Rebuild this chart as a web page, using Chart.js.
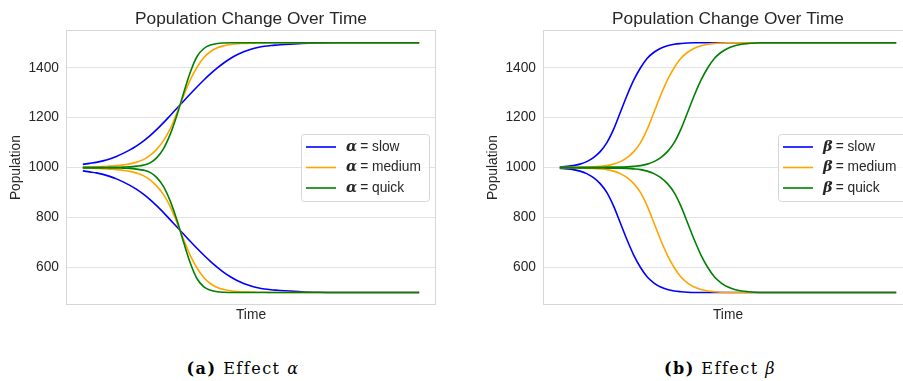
<!DOCTYPE html>
<html>
<head>
<meta charset="utf-8">
<script src="https://cdn.jsdelivr.net/npm/chart.js@4.4.1/dist/chart.umd.min.js"></script>
<style>
  html, body { margin: 0; padding: 0; background: #fff; }
  body { width: 903px; height: 381px; overflow: hidden; position: relative; }
  .panel { position: absolute; top: 0; width: 450px; height: 330px; }
  .caption {
    position: absolute; top: 361px; width: 220px; text-align: center;
    font-family: "DejaVu Serif", serif; font-size: 16px; line-height: 16px;
    letter-spacing: 1.5px; color: #000; white-space: nowrap;
  }
</style>
</head>
<body>
<div class="panel" style="left:0px"><canvas id="chartA"></canvas></div>
<div class="panel" style="left:477px"><canvas id="chartB"></canvas></div>
<div class="caption" style="left:133px"><b>(a)</b> Effect <i>α</i></div>
<div class="caption" style="left:610px"><b>(b)</b> Effect <i>β</i></div>
<script>
// time samples (same for every curve)
const time = [0, 2, 4, 6, 8, 10, 12, 14, 16, 18, 20, 22, 24, 26, 28, 30, 32, 34, 36, 38, 40,
  42, 44, 46, 48, 50, 52, 54, 56, 58, 60, 65, 70, 75, 80, 85, 90, 95, 100];

// Effect alpha
const alphaSlowUp = [1013, 1017, 1021, 1027, 1035, 1045, 1057, 1071, 1087, 1106, 1128, 1153, 1180, 1209, 1238, 1267, 1296, 1324, 1351, 1376, 1399,
  1420, 1438, 1453, 1465, 1474, 1481, 1486, 1489, 1491, 1493, 1497, 1499, 1500, 1500, 1500, 1500, 1500, 1500];
const alphaSlowDown = [987, 983, 979, 973, 965, 955, 943, 929, 913, 894, 872, 847, 820, 791, 762, 733, 704, 676, 649, 624, 601,
  580, 562, 547, 535, 526, 519, 514, 511, 509, 507, 503, 501, 500, 500, 500, 500, 500, 500];
const alphaMedUp = [1002, 1002, 1003, 1004, 1006, 1008, 1011, 1015, 1022, 1032, 1049, 1074, 1108, 1156, 1220, 1289, 1353, 1403, 1441, 1465, 1480,
  1488, 1493, 1496, 1497, 1498, 1499, 1499, 1500, 1500, 1500, 1500, 1500, 1500, 1500, 1500, 1500, 1500, 1500];
const alphaMedDown = [998, 998, 997, 996, 994, 992, 989, 985, 978, 968, 951, 926, 892, 844, 780, 711, 647, 597, 559, 535, 520,
  512, 507, 504, 503, 502, 501, 501, 500, 500, 500, 500, 500, 500, 500, 500, 500, 500, 500];
const alphaQuickUp = [1000, 1000, 1000, 1000, 1001, 1001, 1002, 1003, 1006, 1010, 1019, 1040, 1076, 1134, 1211, 1300, 1384, 1446, 1477, 1491, 1497,
  1499, 1500, 1500, 1500, 1500, 1500, 1500, 1500, 1500, 1500, 1500, 1500, 1500, 1500, 1500, 1500, 1500, 1500];
const alphaQuickDown = [1000, 1000, 1000, 1000, 999, 999, 998, 997, 994, 990, 981, 960, 924, 866, 789, 700, 616, 554, 523, 509, 503,
  501, 500, 500, 500, 500, 500, 500, 500, 500, 500, 500, 500, 500, 500, 500, 500, 500, 500];

// Effect beta
const betaSlowUp = [1003, 1005, 1008, 1014, 1024, 1040, 1064, 1100, 1154, 1222, 1290, 1351, 1400, 1438, 1462, 1478, 1488, 1494, 1497, 1499, 1500,
  1500, 1500, 1500, 1500, 1500, 1500, 1500, 1500, 1500, 1500, 1500, 1500, 1500, 1500, 1500, 1500, 1500, 1500];
const betaSlowDown = [997, 995, 992, 986, 976, 960, 936, 900, 846, 778, 710, 649, 600, 562, 538, 522, 512, 506, 503, 501, 500,
  500, 500, 500, 500, 500, 500, 500, 500, 500, 500, 500, 500, 500, 500, 500, 500, 500, 500];
const betaMedUp = [1001, 1001, 1002, 1002, 1002, 1003, 1005, 1008, 1014, 1024, 1040, 1064, 1100, 1154, 1222, 1290, 1351, 1400, 1438, 1462, 1478,
  1488, 1494, 1497, 1499, 1500, 1500, 1500, 1500, 1500, 1500, 1500, 1500, 1500, 1500, 1500, 1500, 1500, 1500];
const betaMedDown = [999, 999, 998, 998, 998, 997, 995, 992, 986, 976, 960, 936, 900, 846, 778, 710, 649, 600, 562, 538, 522,
  512, 506, 503, 501, 500, 500, 500, 500, 500, 500, 500, 500, 500, 500, 500, 500, 500, 500];
const betaQuickUp = [1000, 1000, 1000, 1001, 1001, 1001, 1001, 1002, 1002, 1002, 1003, 1005, 1008, 1014, 1024, 1040, 1064, 1100, 1154, 1222, 1290,
  1351, 1400, 1438, 1462, 1478, 1488, 1494, 1497, 1499, 1500, 1500, 1500, 1500, 1500, 1500, 1500, 1500, 1500];
const betaQuickDown = [1000, 1000, 1000, 999, 999, 999, 999, 998, 998, 998, 997, 995, 992, 986, 976, 960, 936, 900, 846, 778, 710,
  649, 600, 562, 538, 522, 512, 506, 503, 501, 500, 500, 500, 500, 500, 500, 500, 500, 500];

const yTicks = [600, 800, 1000, 1200, 1400];
const speedLabels = ["slow", "medium", "quick"];
const seriesColors = ["#0000ff", "#ffa500", "#008000"];

const SANS = '"Liberation Sans", Arial, sans-serif';
const TEXT = "#262626";

function series(values) {
    return values.map((v, i) => ({ x: time[i], y: v }));
}

// plot frame (all four sides)
const framePlugin = {
    id: "frame",
    beforeDatasetsDraw(chart) {
        const { ctx, chartArea: a } = chart;
        ctx.save();
        ctx.strokeStyle = "#d6d6d6";
        ctx.lineWidth = 1;
        ctx.strokeRect(Math.round(a.left) + 0.5, Math.round(a.top) + 0.5,
            Math.round(a.right - a.left) - 1, Math.round(a.bottom - a.top) - 1);
        ctx.restore();
    }
};

// legend box inside the plot, right middle
const boxLegend = {
    id: "boxLegend",
    afterDraw(chart, args, opts) {
        const { ctx, chartArea } = chart;
        const w = 128, h = 67, rowH = 20.5;
        const x0 = Math.round(chartArea.right - 7 - w);
        const y0 = Math.round((chartArea.top + chartArea.bottom) / 2 - h / 2);
        ctx.save();
        ctx.beginPath();
        ctx.roundRect(x0 + 0.5, y0 + 0.5, w, h, 3);
        ctx.fillStyle = "rgba(255,255,255,0.8)";
        ctx.fill();
        ctx.strokeStyle = "#d6d6d6";
        ctx.lineWidth = 1;
        ctx.stroke();
        speedLabels.forEach((lab, i) => {
            const y = y0 + 13 + i * rowH;
            ctx.strokeStyle = seriesColors[i];
            ctx.lineWidth = 1.6;
            ctx.beginPath();
            ctx.moveTo(x0 + 5, y);
            ctx.lineTo(x0 + 35, y);
            ctx.stroke();
            ctx.fillStyle = TEXT;
            ctx.textBaseline = "middle";
            ctx.font = 'bold italic 14.5px "DejaVu Serif"';
            ctx.fillText(opts.symbol, x0 + 45, y);
            const sw = ctx.measureText(opts.symbol).width;
            ctx.font = "13.75px " + SANS;
            ctx.fillText("= " + lab, x0 + 45 + sw + 3, y);
        });
        ctx.restore();
    }
};

function makeChart(id, ups, downs, symbol) {
    const datasets = [];
    for (let i = 0; i < 3; i++) {
        [ups[i], downs[i]].forEach(vals => {
            datasets.push({
                data: series(vals),
                borderColor: seriesColors[i],
                borderWidth: 1.6,
                pointRadius: 0,
                fill: false,
                cubicInterpolationMode: "monotone",
                order: 3 - i
            });
        });
    }
    return new Chart(document.getElementById(id), {
        type: "line",
        data: { datasets },
        options: {
            responsive: true,
            maintainAspectRatio: false,
            animation: false,
            layout: { padding: { left: 0, right: 14, top: 0, bottom: 0 } },
            plugins: {
                legend: { display: false },
                tooltip: { enabled: false },
                title: {
                    display: true,
                    fullSize: false,
                    text: "Population Change Over Time",
                    color: TEXT,
                    font: { family: SANS, size: 17.3, weight: "normal" },
                    padding: { top: 9, bottom: 0.5 }
                },
                boxLegend: { symbol }
            },
            scales: {
                x: {
                    type: "linear",
                    min: -5,
                    max: 105,
                    ticks: { display: false },
                    grid: { display: false, drawTicks: false },
                    border: { display: false },
                    title: {
                        display: true, text: "Time", color: TEXT,
                        font: { family: SANS, size: 13.75 },
                        padding: { top: 0, bottom: 7 }
                    },
                    afterFit(s) { s.height = 25; }
                },
                y: {
                    min: 450,
                    max: 1550,
                    afterBuildTicks(s) { s.ticks = yTicks.map(v => ({ value: v })); },
                    ticks: {
                        color: TEXT,
                        font: { family: SANS, size: 13.75 },
                        padding: 7,
                        callback: v => String(v)
                    },
                    grid: { color: "#e2e2e2", lineWidth: 1, drawTicks: false },
                    border: { display: false },
                    title: {
                        display: true, text: "Population", color: TEXT,
                        font: { family: SANS, size: 13.75 },
                        padding: { top: 8, bottom: 0 }
                    },
                    afterFit(s) { s.width = 66; }
                }
            }
        },
        plugins: [framePlugin, boxLegend]
    });
}

makeChart("chartA", [alphaSlowUp, alphaMedUp, alphaQuickUp], [alphaSlowDown, alphaMedDown, alphaQuickDown], "α");
makeChart("chartB", [betaSlowUp, betaMedUp, betaQuickUp], [betaSlowDown, betaMedDown, betaQuickDown], "β");
</script>
</body>
</html>
